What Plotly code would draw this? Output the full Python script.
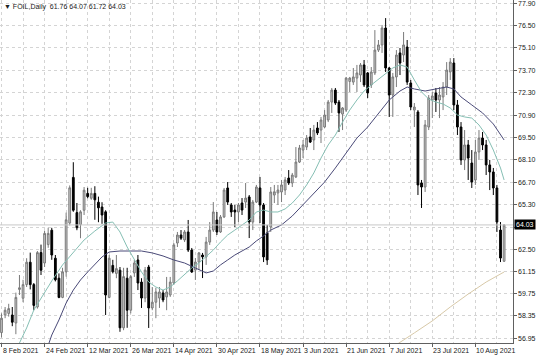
import plotly.graph_objects as go

# ---------------- data ----------------
opens = [57.3, 58.4, 58.5, 58.4, 57.9, 60.0, 59.45, 60.3, 61.7, 60.3,
         58.9, 62.3, 61.65, 62.8, 63.7, 61.95, 60.7, 59.5, 61.1, 64.15,
         67.0, 64.8, 64.05, 64.95, 66.0, 65.7, 66.0, 65.45, 65.15, 64.85,
         59.5, 61.5, 61.0, 61.2, 57.6, 60.7, 58.7,
         61.03, 61.84, 60.46, 59.46, 61.4, 58.84, 59.2, 59.46, 59.78, 59.53,
         59.65, 60.4, 62.9, 63.4, 63.09, 63.59, 62.46, 61.21, 61.71, 62.15,
         62.03, 62.96, 63.71, 64.34, 63.59, 64.53, 66.34, 65.28, 64.96, 64.84,
         65.4, 65.46, 65.78, 64.21, 65.46, 66.34, 65.28,
         63.53, 63.9, 65.9, 66.03, 66.09, 66.21, 66.96, 66.65, 67.03, 67.96,
         68.71, 68.9, 69.53, 69.34, 70.09, 69.96, 70.15, 70.59, 71.71, 72.46,
         71.71, 70.96, 71.21, 73.0, 72.96, 73.21, 73.4, 74.03, 73.53, 72.78,
         73.53, 74.96, 75.28, 76.34,
         73.84, 72.15, 73.28, 74.78, 74.65, 75.15, 72.9, 71.21, 71.09, 66.65,
         66.4, 70.15, 71.84, 72.28, 71.84, 72.03, 72.65, 73.59, 74.15, 71.53,
         70.15, 68.09, 69.03, 67.9, 66.84, 68.59, 69.46, 69.03, 67.78, 67.34,
         66.34, 63.71, 61.76]
highs = [58.5, 58.9, 59.1, 58.9, 59.8, 60.9, 60.6, 61.95, 62.3, 60.4,
         62.4, 62.8, 63.65, 63.85, 63.85, 62.15, 61.0, 61.35, 64.8, 66.5,
         67.95, 65.4, 64.95, 66.4, 66.35, 66.35, 66.45, 65.8, 65.45, 64.95,
         62.15, 61.85, 62.15, 61.4, 61.35, 61.35, 60.9,
         61.84, 62.15, 60.7, 61.4, 61.53, 60.15, 60.1, 60.15, 59.96, 60.78,
         60.78, 62.9, 63.59, 63.71, 63.71, 64.34, 62.59, 61.96, 62.34, 62.28,
         63.28, 64.21, 65.46, 64.84, 64.65, 66.34, 66.71, 65.4, 65.28, 65.4,
         65.71, 66.65, 65.9, 65.59, 66.53, 67.03, 65.4,
         64.03, 66.4, 66.53, 66.53, 66.84, 67.03, 67.46, 67.28, 68.9, 69.03,
         69.34, 69.65, 70.09, 70.28, 70.46, 70.78, 71.21, 71.84, 72.59, 72.59,
         71.84, 71.4, 73.28, 73.28, 73.84, 74.03, 74.15, 74.34, 73.59, 73.9,
         76.21, 75.59, 76.53, 76.96,
         73.9, 73.53, 74.96, 75.09, 76.09, 75.59, 73.09, 71.65, 71.21, 66.84,
         70.59, 72.15, 72.34, 72.59, 72.65, 72.96, 74.21, 74.46, 74.46, 71.84,
         70.46, 69.96, 69.34, 68.71, 69.34, 69.96, 69.84, 69.34, 68.09, 67.59,
         66.53, 64.21, 64.07]
lows = [57.0, 58.2, 58.3, 57.7, 57.2, 59.65, 59.2, 60.15, 60.0, 58.7,
        58.8, 60.9, 61.4, 62.6, 61.85, 60.5, 59.45, 59.45, 60.8, 64.0,
        64.85, 63.7, 63.2, 64.65, 65.7, 65.6, 64.35, 64.2, 64.1, 58.4,
        59.45, 61.0, 60.7, 57.35, 57.45, 57.6, 58.5,
        60.78, 59.96, 58.84, 59.2, 57.59, 58.7, 58.2, 58.84, 59.2, 58.7,
        59.53, 60.28, 62.65, 63.09, 62.96, 62.34, 61.03, 60.59, 61.21, 60.71,
        61.53, 62.78, 63.59, 63.4, 63.53, 64.46, 65.28, 64.53, 63.9, 64.21,
        64.65, 65.09, 63.21, 63.71, 65.4, 64.15, 61.71,
        61.53, 63.59, 65.4, 65.28, 65.46, 65.9, 66.53, 66.4, 66.96, 67.9,
        68.21, 68.71, 69.15, 68.71, 69.65, 69.15, 70.09, 70.46, 71.03, 71.53,
        69.84, 69.96, 71.09, 72.34, 72.78, 72.34, 72.96, 72.65, 71.96, 72.59,
        73.4, 74.84, 74.78, 73.59,
        70.78, 70.78, 72.65, 73.4, 74.21, 72.78, 71.21, 70.15, 65.9, 65.09,
        66.09, 69.96, 70.71, 71.09, 70.71, 71.21, 72.15, 73.09, 71.21, 69.65,
        67.78, 67.46, 66.84, 66.34, 66.53, 68.09, 68.71, 67.15, 66.21, 65.9,
        63.59, 61.71, 61.72]
closes = [58.2, 58.7, 58.8, 57.95, 59.5, 60.1, 60.3, 61.7, 60.3, 59.0,
          62.3, 61.2, 63.5, 63.5, 62.15, 60.6, 59.5, 61.1, 64.35, 66.35,
          64.95, 63.85, 64.85, 66.2, 65.8, 66.0, 65.6, 65.1, 64.65, 59.65,
          61.95, 61.1, 61.3, 57.6, 60.8, 58.7, 60.8,
          61.65, 60.4, 59.46, 61.21, 58.84, 59.2, 59.84, 59.84, 59.34, 59.84,
          60.46, 62.78, 63.4, 63.2, 63.59, 62.46, 61.09, 61.71, 62.28, 62.03,
          62.96, 63.71, 64.84, 63.59, 64.53, 66.21, 65.46, 64.84, 64.84, 65.28,
          64.96, 65.71, 64.21, 65.46, 66.4, 65.28, 62.03,
          61.84, 66.09, 66.1, 66.21, 66.53, 66.84, 66.65, 67.15, 67.96, 68.84,
          69.03, 69.46, 69.21, 69.96, 69.78, 70.59, 70.9, 71.71, 72.46, 71.65,
          71.03, 71.34, 73.21, 73.21, 73.28, 73.53, 74.03, 72.78, 72.28, 73.59,
          74.96, 75.28, 76.34, 73.84,
          72.15, 73.28, 74.65, 74.15, 75.28, 72.96, 71.4, 71.4, 66.53, 66.4,
          70.28, 71.96, 72.09, 71.84, 72.15, 72.65, 73.71, 74.21, 71.53, 70.15,
          68.09, 69.03, 68.21, 66.71, 68.59, 69.46, 69.03, 67.78, 67.34, 66.34,
          64.21, 61.96, 64.03]
bars = list(range(len(closes)))

# moving averages (bar index, value)
ma_fast_bar = [5, 7, 9, 12, 14, 17, 20, 23, 26, 29, 31, 33, 35, 37, 39, 41, 43, 45, 47, 49,
               51, 53, 55, 57, 59, 61, 63, 65, 67, 69, 71, 73, 75, 77, 79, 81, 83, 85, 87,
               89, 91, 93, 95, 97, 99, 101, 103, 105, 107, 109, 111, 113, 115, 117, 119,
               121, 123, 125, 127, 129, 131, 133, 135, 137, 139, 140]
ma_fast_val = [56.65, 57.59, 58.71, 59.84, 60.53, 61.53, 62.34, 63.09, 63.65, 64.15, 64.21,
               63.59, 62.65, 61.84, 61.09, 60.46, 60.15, 59.96, 60.15, 60.53, 60.96, 61.34,
               61.65, 62.03, 62.46, 62.96, 63.40, 63.71, 64.03, 64.34, 64.84, 64.96, 64.84,
               64.84, 65.03, 65.40, 65.90, 66.53, 67.28, 68.21, 69.03, 69.65, 70.46, 71.21,
               71.84, 72.40, 72.78, 73.15, 73.53, 73.84, 74.03, 73.90, 73.09, 72.34, 71.90,
               71.71, 71.59, 71.34, 70.90, 70.78, 70.71, 70.28, 69.65, 68.71, 67.59, 66.84]
ma_mid_bar = [13, 14, 16, 18, 20, 22, 24, 26, 28, 30, 33, 36, 39, 42, 45, 48, 51, 54, 56, 57,
              59, 61, 63, 65, 67, 69, 71, 73, 75, 78, 81, 84, 87, 90, 93, 96, 99, 102, 105,
              108, 111, 113, 115, 118, 121, 124, 126, 128, 131, 134, 137, 140]
ma_mid_val = [56.5, 57.15, 58.09, 59.15, 59.96, 60.59, 61.09, 61.59, 62.03, 62.34, 62.40,
              62.40, 62.40, 62.28, 62.09, 61.84, 61.65, 61.34, 61.15, 61.03, 61.15, 61.53,
              61.84, 62.15, 62.40, 62.65, 63.03, 63.34, 63.71, 64.03, 64.59, 65.28, 66.03,
              66.71, 67.59, 68.53, 69.46, 70.15, 71.03, 71.84, 72.40, 72.65, 72.53, 72.40,
              72.53, 72.65, 72.53, 72.03, 71.53, 71.03, 70.34, 69.34]
ma_slow_bar = [108, 110, 115, 120, 125, 130, 135, 140]
ma_slow_val = [56.25, 56.53, 57.28, 58.03, 58.90, 59.71, 60.46, 61.09]

date_labels = ["8 Feb 2021", "24 Feb 2021", "12 Mar 2021", "26 Mar 2021", "14 Apr 2021",
               "30 Apr 2021", "18 May 2021", "3 Jun 2021", "21 Jun 2021", "7 Jul 2021",
               "23 Jul 2021", "10 Aug 2021"]
label_bars = list(range(0, 12 * len(date_labels), 12))

price_ticks = [77.90, 76.50, 75.10, 73.70, 72.30, 70.90, 69.50, 68.10, 66.70, 65.30,
               63.90, 62.50, 61.15, 59.75, 58.35, 56.95]
price_tick_text = ["77.90", "76.50", "75.10", "73.70", "72.30", "70.90", "69.50", "68.10",
                   "66.70", "65.30", "", "62.50", "61.15", "59.75", "58.35", "56.95"]

symbol = "FOIL,Daily"
last_ohlc = [61.76, 64.07, 61.72, 64.03]

# ---------------- figure ----------------
FONT = "Liberation Sans"
FS = 7
GRID = "#d4d4d4"
TXT = "#202020"

fig = go.Figure()
fig.add_trace(go.Scatter(x=ma_slow_bar, y=ma_slow_val, mode="lines",
                         line=dict(color="#d8c9a8", width=1), hoverinfo="skip"))
fig.add_trace(go.Scatter(x=ma_mid_bar, y=ma_mid_val, mode="lines",
                         line=dict(color="#4a4a78", width=1), hoverinfo="skip"))
fig.add_trace(go.Scatter(x=ma_fast_bar, y=ma_fast_val, mode="lines",
                         line=dict(color="#86bfb4", width=1), hoverinfo="skip"))
fig.add_trace(go.Candlestick(
    x=bars, open=opens, high=highs, low=lows, close=closes,
    increasing=dict(fillcolor="#c8c8c8", line=dict(color="#7a7a7a", width=1)),
    decreasing=dict(fillcolor="#000000", line=dict(color="#000000", width=1)),
    whiskerwidth=0, hoverinfo="skip"))

fig.add_hline(y=last_ohlc[3], line=dict(color="#c8c8c8", width=1))

annotations = []
for b, t in zip(label_bars, date_labels):
    annotations.append(dict(x=b, xref="x", y=0, yref="paper", text=t, showarrow=False,
                            xanchor="left", yanchor="top", xshift=-1, yshift=-2,
                            font=dict(family=FONT, size=FS, color=TXT)))
for v, t in zip(price_ticks, price_tick_text):
    if t:
        annotations.append(dict(x=1, xref="paper", y=v, yref="y", text=t, showarrow=False,
                                xanchor="left", yanchor="middle", xshift=3,
                                font=dict(family=FONT, size=FS, color=TXT)))
annotations.append(dict(x=0, xref="paper", y=1, yref="paper",
                        text="\u25BC " + symbol + "  " + " ".join(f"{v:.2f}" for v in last_ohlc),
                        showarrow=False, xanchor="left", yanchor="top", xshift=2, yshift=-1,
                        font=dict(family=FONT, size=FS, color=TXT)))
annotations.append(dict(x=1, xref="paper", y=last_ohlc[3], yref="y", text=f"{last_ohlc[3]:.2f}",
                        showarrow=False, xanchor="left", yanchor="middle", xshift=1,
                        bgcolor="#000000", borderpad=1,
                        font=dict(family=FONT, size=FS, color="#ffffff")))

fig.update_layout(
    width=536, height=357, autosize=False,
    margin=dict(l=0, r=23, t=0, b=14),
    paper_bgcolor="#ffffff", plot_bgcolor="#ffffff",
    showlegend=False, annotations=annotations,
    xaxis=dict(range=[-0.42, 142.48], rangeslider=dict(visible=False),
               tickvals=label_bars, showticklabels=False, ticks="outside", ticklen=3,
               tickcolor="#606060",
               showgrid=True, gridcolor=GRID, griddash="dot", gridwidth=1,
               minor=dict(dtick=6, tick0=0, showgrid=True, gridcolor=GRID, griddash="dot"),
               showline=True, linecolor="#606060", mirror=True, zeroline=False,
               fixedrange=True),
    yaxis=dict(range=[56.65, 78.09], side="right", tickvals=price_ticks,
               showticklabels=False, ticks="outside", ticklen=3, tickcolor="#606060",
               showgrid=True, gridcolor=GRID, griddash="dot", gridwidth=1,
               showline=True, linecolor="#606060", mirror=True, zeroline=False,
               fixedrange=True),
)

fig.write_html("out.html")
